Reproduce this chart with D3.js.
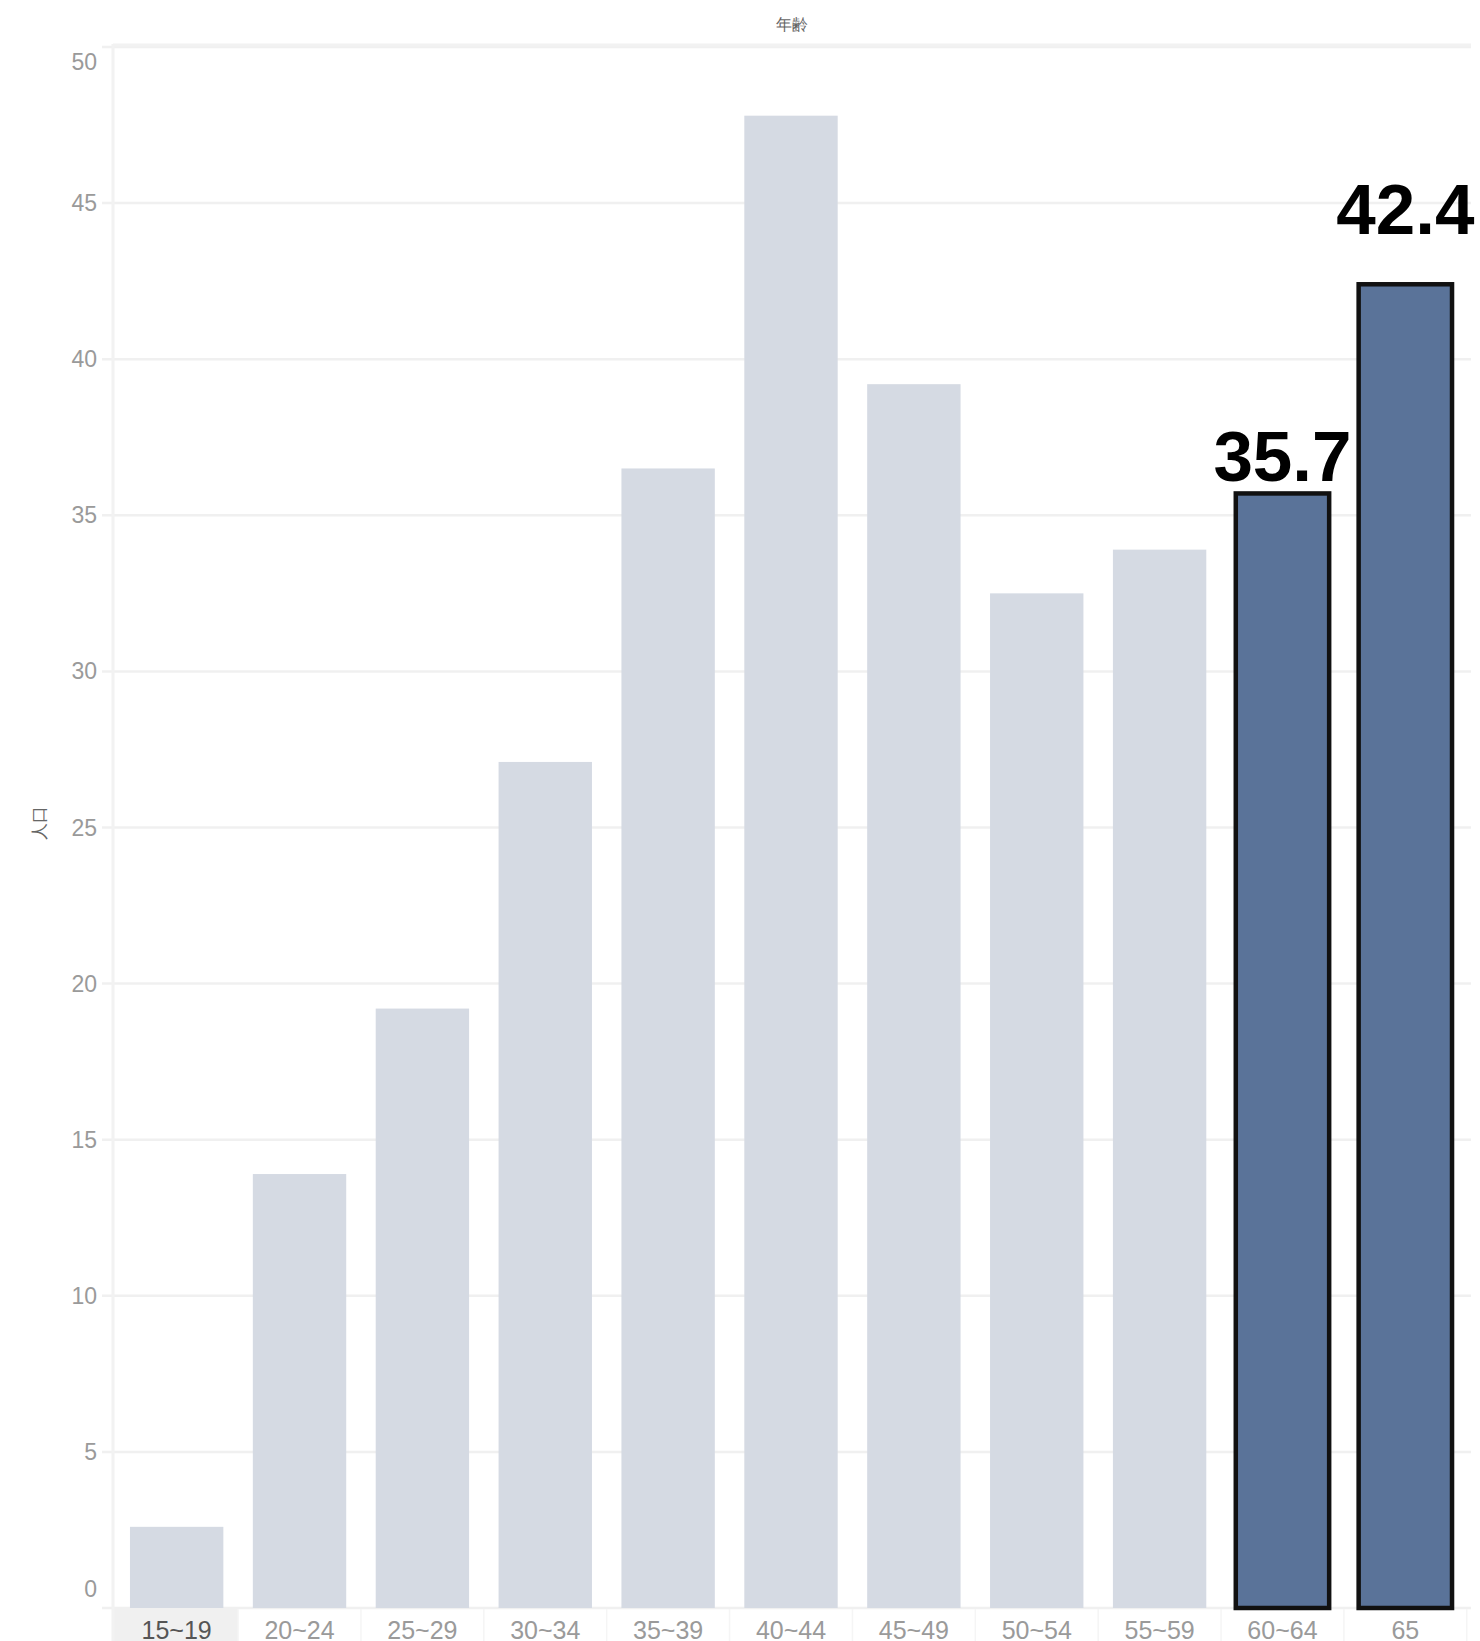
<!DOCTYPE html>
<html lang="ja">
<head>
<meta charset="UTF-8">
<title>年齢別 人口</title>
<script src="https://cdn.jsdelivr.net/npm/d3@7"></script>
<style>
  body { margin: 0; background: #fff; }
  text { font-family: "Liberation Sans", Arial, sans-serif; }
</style>
</head>
<body>
<div id="chart"></div>
<script>
// data
var ageGroups = ["15~19", "20~24", "25~29", "30~34", "35~39", "40~44", "45~49", "50~54", "55~59", "60~64", "65"];
var population = [2.6, 13.9, 19.2, 27.1, 36.5, 47.8, 39.2, 32.5, 33.9, 35.7, 42.4];
var highlighted = ["60~64", "65"];
var yTicks = [0, 5, 10, 15, 20, 25, 30, 35, 40, 45, 50];

var W = 1480, H = 1641;
var plotLeft = 114, plotRight = 1468, plotTop = 47, plotBottom = 1608;

var svg = d3.select("#chart").append("svg")
    .attr("width", W)
    .attr("height", H);

var x = d3.scaleBand()
    .domain(ageGroups)
    .range([plotLeft, plotRight])
    .paddingInner(0.24)
    .paddingOuter(0.13);

var y = d3.scaleLinear()
    .domain([0, 50])
    .range([plotBottom, plotTop]);

var data = ageGroups.map(function (g, i) { return { age: g, value: population[i] }; });

// header highlight for first category
var gap = (x.step() - x.bandwidth()) / 2;
svg.append("rect")
    .attr("x", 113)
    .attr("y", plotBottom + 1)
    .attr("width", x(ageGroups[0]) + x.bandwidth() + gap - 113)
    .attr("height", H - plotBottom)
    .attr("fill", "#f0f0f0");

// gridlines
svg.append("g")
    .selectAll("line")
    .data(yTicks)
    .enter().append("line")
    .attr("x1", 102)
    .attr("x2", 1471)
    .attr("y1", function (d) { return y(d); })
    .attr("y2", function (d) { return y(d); })
    .attr("stroke", "#f0f0f0")
    .attr("stroke-width", 2.5);

// pane top and y axis line
svg.append("line")
    .attr("x1", 113).attr("x2", 1471)
    .attr("y1", 45).attr("y2", 45)
    .attr("stroke", "#f2f2f2").attr("stroke-width", 3);
svg.append("line")
    .attr("x1", 113).attr("x2", 113)
    .attr("y1", 44).attr("y2", H)
    .attr("stroke", "#f2f2f2").attr("stroke-width", 3);

// header separators
svg.append("g")
    .selectAll("line")
    .data(ageGroups)
    .enter().append("line")
    .attr("x1", function (d) { return x(d) + x.bandwidth() + gap; })
    .attr("x2", function (d) { return x(d) + x.bandwidth() + gap; })
    .attr("y1", plotBottom + 1).attr("y2", H)
    .attr("stroke", "#f5f5f5").attr("stroke-width", 1.5);

// y tick labels (end labels kept inside the pane)
svg.append("g")
    .selectAll("text")
    .data(yTicks)
    .enter().append("text")
    .attr("x", 97)
    .attr("y", function (d) { return Math.min(Math.max(y(d), plotTop + 15), plotBottom - 19); })
    .attr("dy", "0.35em")
    .attr("text-anchor", "end")
    .attr("font-size", 23)
    .attr("fill", "#9a9a9a")
    .text(function (d) { return d; });

// bars
svg.append("g")
    .selectAll("rect")
    .data(data)
    .enter().append("rect")
    .attr("x", function (d) { return x(d.age); })
    .attr("y", function (d) { return y(d.value); })
    .attr("width", x.bandwidth())
    .attr("height", function (d) { return y(0) - y(d.value); })
    .attr("fill", function (d) { return highlighted.indexOf(d.age) >= 0 ? "#5a7399" : "#d5dae3"; })
    .attr("stroke", function (d) { return highlighted.indexOf(d.age) >= 0 ? "#111" : "none"; })
    .attr("stroke-width", 4.5);

// value labels on highlighted bars
var labelLift = { "60~64": 12, "65": 50 };
svg.append("g")
    .selectAll("text")
    .data(data.filter(function (d) { return highlighted.indexOf(d.age) >= 0; }))
    .enter().append("text")
    .attr("x", function (d) { return x(d.age) + x.bandwidth() / 2; })
    .attr("y", function (d) { return y(d.value) - labelLift[d.age]; })
    .attr("text-anchor", "middle")
    .attr("font-size", 71)
    .attr("font-weight", "bold")
    .attr("fill", "#000")
    .text(function (d) { return d.value.toFixed(1); });

// x labels
svg.append("g")
    .selectAll("text")
    .data(ageGroups)
    .enter().append("text")
    .attr("x", function (d) { return x(d) + x.bandwidth() / 2; })
    .attr("y", 1639)
    .attr("text-anchor", "middle")
    .attr("font-size", 25)
    .attr("fill", function (d, i) { return i === 0 ? "#555" : "#9a9a9a"; })
    .text(function (d) { return d; });

// titles
svg.append("text")
    .attr("x", 792)
    .attr("y", 30)
    .attr("text-anchor", "middle")
    .attr("font-size", 16)
    .attr("font-family", "Noto Sans CJK JP")
    .attr("fill", "#666")
    .text("年齢");

svg.append("text")
    .attr("transform", "translate(45,823) rotate(-90)")
    .attr("text-anchor", "middle")
    .attr("font-size", 17)
    .attr("font-family", "Noto Sans CJK JP")
    .attr("fill", "#666")
    .text("人口");
</script>
</body>
</html>
